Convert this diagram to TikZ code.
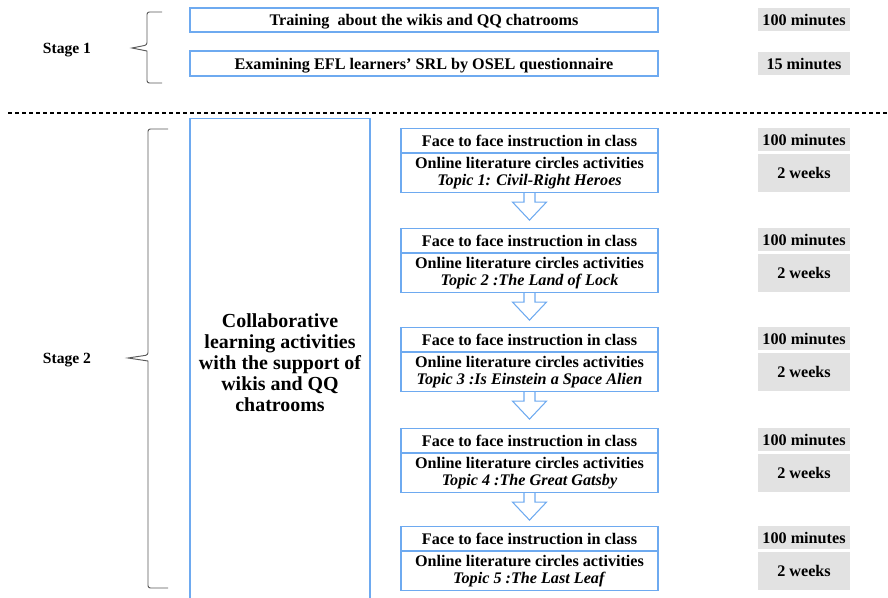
\documentclass[tikz,border=0pt]{standalone}
\usepackage{fontspec}
\setmainfont{Liberation Serif}
\usetikzlibrary{positioning, calc}
\definecolor{boxblue}{RGB}{110,170,240}
\definecolor{timegrey}{RGB}{226,226,226}
\tikzstyle{stepbox} = [
    rectangle,
    draw = boxblue,
    line width = 0.9pt,
    inner sep = 0pt,
    align = center,
    font = \bfseries\fontsize{13.8}{14.5}\selectfont,
]
\tikzstyle{timebox} = [
    rectangle,
    fill = timegrey,
    inner sep = 0pt,
    minimum width = 2.76cm,
    align = center,
    font = \bfseries\fontsize{13.8}{14.5}\selectfont,
]
\tikzstyle{stagelabel} = [text depth = 0pt, font = \bfseries\fontsize{13.3}{14}\selectfont]
\tikzstyle{stagebrace} = [draw = black!65, line width = 0.8pt, rounded corners = 2pt]
\tikzstyle{flowarrow} = [draw = boxblue, line width = 0.9pt, fill = white, line join = miter]

\begin{document}
\begin{tikzpicture} [x = 0.03cm, y = -0.03cm]
    \useasboundingbox (0,0) rectangle (888,598);

    % stage 1
    \node (stage1) [stagelabel] at (67,48) {Stage 1};
    \coordinate (b1top) at (162,12);
    \coordinate (b1tip) at (132,48);
    \coordinate (b1bot) at (162,83);
    \draw[stagebrace] (b1top) -- (147,12) -- (147,45) [sharp corners] -- (b1tip) -- (147,51) [rounded corners = 2pt] -- (147,83) -- (b1bot);

    \node (train) [stepbox, text depth = 0pt, minimum width = 14.04cm, minimum height = 0.72cm] at (424,20) {Training~ about the wikis and QQ chatrooms};
    \node (exam) [stepbox, text depth = 0pt, minimum width = 14.04cm, minimum height = 0.75cm] at (424,63.5) {Examining EFL learners’ SRL by OSEL questionnaire};
    \node (train time) [timebox, minimum height = 0.69cm] at (804,19.5) {100 minutes};
    \node (exam time) [timebox, minimum height = 0.69cm] at (804,63.5) {15 minutes};

    \coordinate (dashL) at (8,113);
    \coordinate (dashR) at (888,113);
    \draw[line width = 1pt, dash pattern = on 0.12cm off 0.09cm] (dashL) -- (dashR);

    % stage 2
    \node (stage2) [stagelabel] at (67,358) {Stage 2};
    \coordinate (b2top) at (168,129);
    \coordinate (b2tip) at (128,358);
    \coordinate (b2bot) at (168,588);
    \draw[stagebrace] (b2top) -- (148,129) -- (148,355) [sharp corners] -- (b2tip) -- (148,361) [rounded corners = 2pt] -- (148,588) -- (b2bot);

    \node (collab) [stepbox, minimum width = 5.4cm, minimum height = 14.64cm, anchor = north, font = \bfseries\fontsize{17}{18}\selectfont] at (280,118) {Collaborative\\learning activities\\with the support of\\wikis and QQ\\chatrooms};

    \foreach \i/\y/\topic in {1/128/{Topic 1: Civil-Right Heroes}, 2/228/{Topic 2 :The Land of Lock}, 3/327/{Topic 3 :Is Einstein a Space Alien}, 4/428/{Topic 4 :The Great Gatsby}, 5/526/{Topic 5 :The Last Leaf}} {
        \node (face\i) [stepbox, minimum width = 7.71cm, minimum height = 0.72cm, anchor = north] at (529.5,\y) {Face to face instruction in class};
        \node (online\i) [stepbox, minimum width = 7.71cm, minimum height = 1.17cm, below = 0pt of face\i] {Online literature circles activities\\\textit{\topic}};
        \node (min\i) [timebox, minimum height = 0.69cm, anchor = north] at (804,\y) {100 minutes};
        \node (weeks\i) [timebox, minimum height = 1.14cm, below = 0.06cm of min\i] {2 weeks};
    }

    \foreach \i in {1,...,4}
        \draw[flowarrow, shift = {(online\i.south)}] (-5.5,0) -- (-5.5,9) -- (-17,9) -- (0,27) -- (17,9) -- (5.5,9) -- (5.5,0);
\end{tikzpicture}
\end{document}
